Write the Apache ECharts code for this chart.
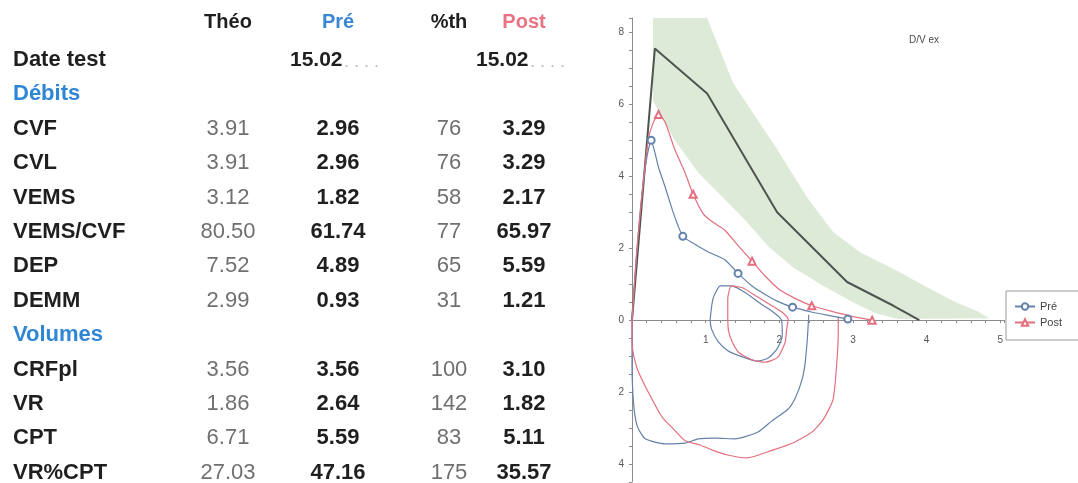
<!DOCTYPE html>
<html>
<head>
<meta charset="utf-8">
<script src="https://cdn.jsdelivr.net/npm/echarts@6/dist/echarts.min.js"></script>
<style>
  html, body { margin: 0; padding: 0; background: #fff; }
  #chart { width: 1078px; height: 483px; }
</style>
</head>
<body>
<div id="chart"></div>
<script>
// ---- table values ----
var colHeads = ['Théo', 'Pré', '%th', 'Post'];
var testDate = ['15.02', '15.02'];
var debitLabels = ['CVF', 'CVL', 'VEMS', 'VEMS/CVF', 'DEP', 'DEMM'];
var volumeLabels = ['CRFpl', 'VR', 'CPT', 'VR%CPT'];
var theo  = [3.91, 3.91, 3.12, 80.50, 7.52, 2.99, 3.56, 1.86, 6.71, 27.03];
var pre   = [2.96, 2.96, 1.82, 61.74, 4.89, 0.93, 3.56, 2.64, 5.59, 47.16];
var pctTh = [76, 76, 58, 77, 65, 31, 100, 142, 83, 175];
var post  = [3.29, 3.29, 2.17, 65.97, 5.59, 1.21, 3.10, 1.82, 5.11, 35.57];

// ---- flow / volume curves [volume L, flow L/s] ----
var predLine = [[0, 0], [0.31, 7.55], [1.02, 6.3], [1.97, 3.0], [2.92, 1.06], [3.55, 0.4], [3.9, 0]];
var bandUpper = [[0.285, 8.4], [1.02, 8.4], [1.37, 6.6], [1.97, 4.75], [2.38, 3.4], [2.73, 2.45],
  [3.1, 1.88], [3.55, 1.42], [4.0, 0.92], [4.36, 0.53], [4.69, 0.25], [4.85, 0.05]];
var bandLower = [[0.285, 6.1], [0.58, 5.0], [0.9, 4.1], [1.26, 3.36], [1.55, 2.75], [1.85, 2.05],
  [2.2, 1.45], [2.6, 0.95], [3.0, 0.5], [3.3, 0.2], [3.6, 0.03]];

var preExp = [[0, 0], [0.05, 1.5], [0.12, 3.2], [0.2, 4.5], [0.26, 5.0], [0.3, 4.75], [0.36, 4.25],
  [0.45, 3.7], [0.55, 3.05], [0.62, 2.65], [0.69, 2.33], [0.82, 2.15], [1.03, 1.9], [1.26, 1.68],
  [1.44, 1.3], [1.63, 0.95], [1.82, 0.7], [2.0, 0.5], [2.18, 0.36], [2.45, 0.22], [2.7, 0.12], [2.93, 0.03]];
var preMarks = [4, 10, 14, 18, 21];
var preTidal = [[1.06, 0], [1.1, 0.6], [1.2, 0.95], [1.35, 0.95], [1.55, 0.75], [1.75, 0.45], [1.92, 0.22],
  [2.03, 0], [2.04, -0.44], [1.97, -0.8], [1.85, -1.05], [1.7, -1.14], [1.47, -1.0], [1.3, -0.85],
  [1.17, -0.6], [1.08, -0.25], [1.06, 0]];
var preInsp = [[2.4, 0.15], [2.39, -0.2], [2.38, -0.53], [2.35, -1.2], [2.31, -1.64], [2.22, -2.15],
  [2.12, -2.47], [1.9, -2.8], [1.71, -3.11], [1.4, -3.3], [1.13, -3.28], [0.9, -3.3], [0.72, -3.42],
  [0.45, -3.44], [0.18, -3.3], [0.07, -2.94], [0.02, -2.28], [0, -1.17], [0, 0]];

var postExp = [[0, 0], [0.06, 1.8], [0.14, 3.6], [0.22, 5.0], [0.28, 5.45], [0.36, 5.72], [0.45, 5.5],
  [0.58, 4.75], [0.72, 4.1], [0.83, 3.5], [0.97, 2.95], [1.1, 2.72], [1.26, 2.5], [1.45, 2.05],
  [1.63, 1.64], [1.81, 1.22], [2.0, 0.85], [2.2, 0.62], [2.44, 0.4], [2.7, 0.25], [3.0, 0.1], [3.26, 0]];
var postMarks = [5, 9, 14, 18, 21];
var postTidal = [[1.3, 0], [1.3, 0.6], [1.35, 0.95], [1.5, 0.9], [1.7, 0.65], [1.9, 0.4], [2.05, 0.2],
  [2.12, 0.02], [2.1, -0.25], [2.08, -0.61], [1.98, -1.03], [1.81, -1.17], [1.63, -1.1], [1.45, -0.9],
  [1.36, -0.6], [1.31, -0.3], [1.3, 0]];
var postInsp = [[2.8, 0.1], [2.8, -0.3], [2.78, -1.2], [2.73, -2.2], [2.6, -2.75], [2.45, -3.1],
  [2.2, -3.4], [1.9, -3.62], [1.56, -3.83], [1.3, -3.75], [1.1, -3.62], [0.92, -3.47], [0.72, -3.35],
  [0.55, -3.0], [0.41, -2.7], [0.22, -2.0], [0.08, -1.4], [0.02, -0.95], [0, -0.6], [0, 0]];

var xLabels = [1, 2, 3, 4, 5];
var yLabels = [-4, -2, 0, 2, 4, 6, 8];

var PRE_COLOR = '#6482aa';
var POST_COLOR = '#e36f7e';
var FONT = '"Liberation Sans", Arial, sans-serif';

// ---- table drawn as graphic texts ----
var colX = [228, 338, 449, 524];
function rowY(i) { return 60 + i * 34.4; }
function txt(x, y, s, extra) {
  return {
    type: 'text', x: x, y: y, silent: true,
    style: Object.assign({
      text: s, fill: '#1f1f1f', font: 'bold 22px ' + FONT,
      align: 'left', verticalAlign: 'middle'
    }, extra || {})
  };
}

var graphics = [];
var headColors = ['#1f1f1f', '#3a87d4', '#1f1f1f', '#ea7283'];
colHeads.forEach(function (h, i) {
  graphics.push(txt(colX[i], 22, h, { align: 'center', fill: headColors[i], font: 'bold 20px ' + FONT }));
});
graphics.push(txt(13, rowY(0), 'Date test'));
[[290, testDate[0]], [476, testDate[1]]].forEach(function (d) {
  graphics.push(txt(d[0], rowY(0), d[1], { font: 'bold 21px ' + FONT }));
  graphics.push(txt(d[0] + 54, rowY(0) + 2, '. . . .', { fill: '#bdbdbd', font: '18px ' + FONT }));
});

function addRows(labels, offset, startRow) {
  labels.forEach(function (lab, k) {
    var j = offset + k, y = rowY(startRow + k);
    graphics.push(txt(13, y, lab));
    graphics.push(txt(colX[0], y, theo[j].toFixed(2), { align: 'center', fill: '#707070', font: '22px ' + FONT }));
    graphics.push(txt(colX[1], y, pre[j].toFixed(2), { align: 'center', font: 'bold 22px ' + FONT }));
    graphics.push(txt(colX[2], y, String(pctTh[j]), { align: 'center', fill: '#707070', font: '22px ' + FONT }));
    graphics.push(txt(colX[3], y, post[j].toFixed(2), { align: 'center', font: 'bold 22px ' + FONT }));
  });
}
graphics.push(txt(13, rowY(1), 'Débits', { fill: '#2f86d6' }));
addRows(debitLabels, 0, 2);
graphics.push(txt(13, rowY(8), 'Volumes', { fill: '#2f86d6' }));
addRows(volumeLabels, 6, 9);

// marker points only at chosen indices
function marked(data, idx) {
  return data.map(function (p, i) {
    return idx.indexOf(i) >= 0 ? p : { value: p, symbol: 'none' };
  });
}

function loop(name, data, color) {
  return {
    name: name, type: 'line', data: data, symbol: 'none', smooth: 0.2,
    lineStyle: { color: color, width: 1.2 }, z: 3
  };
}

var bandPoly = bandUpper.concat(bandLower.slice().reverse());

var Y_MIN = -4.5, Y_MAX = 8.4, GRID_TOP = 18, GRID_H = 464;
// x axis sits on flow = 0
var xOffset = -Math.round(GRID_H * (0 - Y_MIN) / (Y_MAX - Y_MIN));

var chart = echarts.init(document.getElementById('chart'));
chart.setOption({
  animation: false,
  backgroundColor: '#fff',
  title: {
    text: 'D/V ex', left: 904, top: 30,
    textStyle: { fontSize: 10, fontWeight: 'normal', color: '#4a4a4a', fontFamily: FONT }
  },
  legend: {
    data: ['Pré', 'Post'],
    orient: 'vertical', left: 1006, top: 291,
    padding: [10, 30, 12, 8], itemGap: 5, itemWidth: 20, itemHeight: 8,
    borderColor: '#9a9a9a', borderWidth: 1,
    textStyle: { fontSize: 11, color: '#444', fontFamily: FONT }
  },
  grid: { left: 632, width: 372, top: GRID_TOP, height: GRID_H, outerBoundsMode: 'none', containLabel: false },
  xAxis: {
    type: 'value', min: 0, max: 5.05, interval: 0.2,
    position: 'bottom', offset: xOffset,
    axisLine: { onZero: false, lineStyle: { color: '#8c8c8c', width: 1 } },
    axisTick: { length: 3, lineStyle: { color: '#8c8c8c' } },
    axisLabel: { customValues: xLabels, fontSize: 10, color: '#555', margin: 15, fontFamily: FONT },
    splitLine: { show: false }
  },
  yAxis: {
    type: 'value', min: Y_MIN, max: Y_MAX, interval: 0.5,
    axisLine: { show: true, onZero: false, lineStyle: { color: '#8c8c8c', width: 1 } },
    axisTick: { show: true, length: 3, lineStyle: { color: '#8c8c8c' } },
    axisLabel: {
      customValues: yLabels, fontSize: 10, color: '#555', margin: 8, fontFamily: FONT,
      formatter: function (v) { return String(Math.abs(v)); }
    },
    splitLine: { show: false }
  },
  graphic: graphics,
  series: [
    {
      name: 'band', type: 'custom', silent: true, z: 1,
      data: [[0, 0]],
      renderItem: function (params, api) {
        return {
          type: 'polygon',
          shape: { points: bandPoly.map(function (p) { return api.coord(p); }) },
          style: { fill: 'rgba(188,214,178,0.5)' }
        };
      }
    },
    {
      name: 'Théo', type: 'line', data: predLine, symbol: 'none', z: 2,
      lineStyle: { color: '#4f544f', width: 2 }
    },
    {
      name: 'Pré', type: 'line', data: marked(preExp, preMarks), smooth: 0.2,
      symbol: 'emptyCircle', symbolSize: 7, showSymbol: true, color: PRE_COLOR,
      lineStyle: { color: PRE_COLOR, width: 1.2 }, z: 4
    },
    loop('Pré tidal', preTidal, PRE_COLOR),
    loop('Pré insp', preInsp, PRE_COLOR),
    {
      name: 'Post', type: 'line', data: marked(postExp, postMarks), smooth: 0.2,
      symbol: 'emptyTriangle', symbolSize: 7, showSymbol: true, color: POST_COLOR,
      lineStyle: { color: POST_COLOR, width: 1.2 }, z: 4
    },
    loop('Post tidal', postTidal, POST_COLOR),
    loop('Post insp', postInsp, POST_COLOR)
  ]
});
</script>
</body>
</html>
